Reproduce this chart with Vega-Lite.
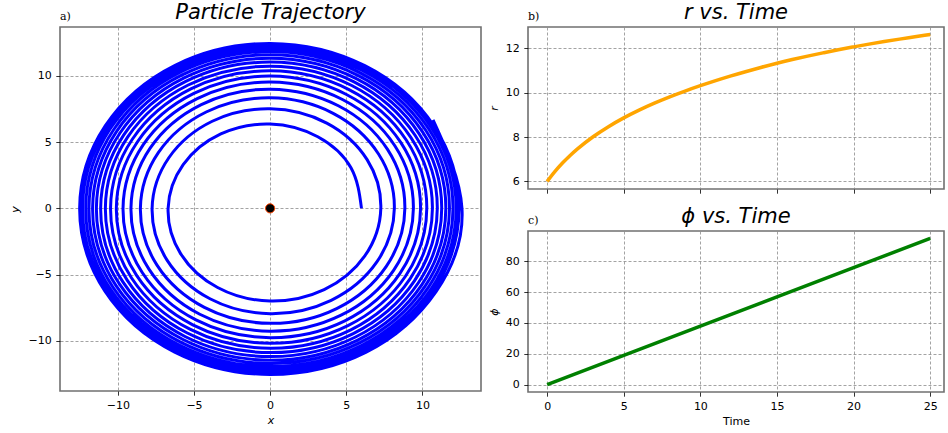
{
  "$schema": "https://vega.github.io/schema/vega-lite/v6.json",
  "background": "white",
  "padding": {"left": 8, "top": 1, "right": 0, "bottom": 0},
  "datasets": {
    "spiral": [
      {"x":6,"y":0},{"x":5.31,"y":3.06},{"x":3.13,"y":5.41},{"x":0,"y":6.37},{"x":-3.24,"y":5.62},{"x":-5.71,"y":3.3},{"x":-6.7,"y":0},{"x":-5.89,"y":-3.4},{"x":-3.45,"y":-5.98},{"x":0,"y":-7},{"x":3.55,"y":-6.14},{"x":6.22,"y":-3.59},
      {"x":7.27,"y":0},{"x":6.37,"y":3.68},{"x":3.72,"y":6.44},{"x":0,"y":7.52},{"x":-3.8,"y":6.58},{"x":-6.64,"y":3.84},{"x":-7.75,"y":0},{"x":-6.77,"y":-3.91},{"x":-3.95,"y":-6.83},{"x":0,"y":-7.96},{"x":4.01,"y":-6.95},{"x":7.01,"y":-4.05},
      {"x":8.16,"y":0},{"x":7.12,"y":4.11},{"x":4.14,"y":7.18},{"x":0,"y":8.35},{"x":-4.2,"y":7.28},{"x":-7.33,"y":4.23},{"x":-8.52,"y":0},{"x":-7.43,"y":-4.29},{"x":-4.32,"y":-7.48},{"x":0,"y":-8.69},{"x":4.37,"y":-7.57},{"x":7.62,"y":-4.4},
      {"x":8.85,"y":0},{"x":7.71,"y":4.45},{"x":4.48,"y":7.75},{"x":0,"y":9},{"x":-4.52,"y":7.84},{"x":-7.88,"y":4.55},{"x":-9.14,"y":0},{"x":-7.96,"y":-4.59},{"x":-4.62,"y":-8},{"x":0,"y":-9.28},{"x":4.66,"y":-8.07},{"x":8.11,"y":-4.68},
      {"x":9.41,"y":0},{"x":8.19,"y":4.73},{"x":4.75,"y":8.22},{"x":0,"y":9.54},{"x":-4.79,"y":8.29},{"x":-8.33,"y":4.81},{"x":-9.66,"y":0},{"x":-8.4,"y":-4.85},{"x":-4.87,"y":-8.43},{"x":0,"y":-9.77},{"x":4.91,"y":-8.5},{"x":8.53,"y":-4.92},
      {"x":9.88,"y":0},{"x":8.59,"y":4.96},{"x":4.98,"y":8.62},{"x":0,"y":9.99},{"x":-5.01,"y":8.68},{"x":-8.71,"y":5.03},{"x":-10.1,"y":0},{"x":-8.77,"y":-5.07},{"x":-5.08,"y":-8.8},{"x":0,"y":-10.2},{"x":5.11,"y":-8.86},{"x":8.89,"y":-5.13},
      {"x":10.29,"y":0},{"x":8.94,"y":5.16},{"x":5.18,"y":8.97},{"x":0,"y":10.39},{"x":-5.21,"y":9.02},{"x":-9.05,"y":5.22},{"x":-10.48,"y":0},{"x":-9.1,"y":-5.26},{"x":-5.27,"y":-9.13},{"x":0,"y":-10.57},{"x":5.3,"y":-9.18},{"x":9.2,"y":-5.31},
      {"x":10.66,"y":0},{"x":9.25,"y":5.34},{"x":5.36,"y":9.28},{"x":0,"y":10.74},{"x":-5.38,"y":9.32},{"x":-9.35,"y":5.4},{"x":-10.82,"y":0},{"x":-9.39,"y":-5.42},{"x":-5.44,"y":-9.42},{"x":0,"y":-10.9},{"x":5.46,"y":-9.46},{"x":9.48,"y":-5.48},
      {"x":10.98,"y":0},{"x":9.53,"y":5.5},{"x":5.51,"y":9.55},{"x":0,"y":11.05},{"x":-5.54,"y":9.59},{"x":-9.61,"y":5.55},{"x":-11.13,"y":0},{"x":-9.66,"y":-5.58},{"x":-5.59,"y":-9.68},{"x":0,"y":-11.2},{"x":5.61,"y":-9.72},{"x":9.74,"y":-5.62},
      {"x":11.27,"y":0},{"x":9.78,"y":5.65},{"x":5.66,"y":9.8},{"x":0,"y":11.34},{"x":-5.68,"y":9.84},{"x":-9.86,"y":5.69},{"x":-11.41,"y":0},{"x":-9.9,"y":-5.71},{"x":-5.72,"y":-9.91},{"x":0,"y":-11.47},{"x":5.75,"y":-9.95},{"x":9.97,"y":-5.76},
      {"x":11.54,"y":0},{"x":10.01,"y":5.78},{"x":5.79,"y":10.03},{"x":0,"y":11.6},{"x":-5.81,"y":10.06},{"x":-10.08,"y":5.82},{"x":-11.66,"y":0},{"x":-10.12,"y":-5.84},{"x":-5.85,"y":-10.13},{"x":0,"y":-11.72},{"x":5.87,"y":-10.17},{"x":10.18,"y":-5.88},
      {"x":11.78,"y":0},{"x":10.22,"y":5.9},{"x":5.91,"y":10.24},{"x":0,"y":11.84},{"x":-5.93,"y":10.27},{"x":-10.28,"y":5.94},{"x":-11.9,"y":0},{"x":-10.32,"y":-5.96},{"x":-5.97,"y":-10.33},{"x":0,"y":-11.95},{"x":5.99,"y":-10.37},{"x":10.38,"y":-5.99},
      {"x":12.01,"y":0},{"x":10.41,"y":6.01},{"x":6.02,"y":10.43},{"x":0,"y":12.06},{"x":-6.04,"y":10.46},{"x":-10.48,"y":6.05},{"x":-12.11,"y":0},{"x":-10.51,"y":-6.07},{"x":-6.07,"y":-10.52},{"x":0,"y":-12.17},{"x":6.09,"y":-10.55},{"x":10.57,"y":-6.1},
      {"x":12.22,"y":0},{"x":10.59,"y":6.12},{"x":6.13,"y":10.61},{"x":0,"y":12.27},{"x":-6.14,"y":10.64},{"x":-10.65,"y":6.15},{"x":-12.32,"y":0},{"x":-10.68,"y":-6.17},{"x":-6.18,"y":-10.7},{"x":0,"y":-12.37},{"x":6.19,"y":-10.72},{"x":10.74,"y":-6.2},
      {"x":12.41,"y":0},{"x":10.76,"y":6.22},{"x":6.22,"y":10.78},{"x":0,"y":12.46},{"x":-6.24,"y":10.81},{"x":-10.82,"y":6.25},{"x":-12.51,"y":0},{"x":-10.85,"y":-6.26},{"x":-6.27,"y":-10.86},{"x":0,"y":-12.55},{"x":6.28,"y":-10.88},{"x":10.9,"y":-6.29},
      {"x":12.6,"y":0},{"x":10.7,"y":6.69}
    ],
    "center": [{"x":0,"y":0}],
    "rt": [
      {"t":0,"r":6},{"t":0.5,"r":6.441},{"t":1,"r":6.827},{"t":1.5,"r":7.169},{"t":2,"r":7.476},{"t":3,"r":8.011},{"t":4,"r":8.465},{"t":5,"r":8.861},{"t":6,"r":9.21},{"t":7,"r":9.524},{"t":8,"r":9.808},{"t":9,"r":10.068},{"t":10,"r":10.308},{"t":11,"r":10.535},{"t":12,"r":10.75},{"t":13,"r":10.95},{"t":14,"r":11.14},{"t":15,"r":11.32},{"t":16,"r":11.485},{"t":17,"r":11.64},{"t":18,"r":11.785},{"t":19,"r":11.925},{"t":20,"r":12.055},{"t":21,"r":12.18},{"t":22,"r":12.295},{"t":23,"r":12.405},{"t":24,"r":12.51},{"t":25,"r":12.616}
    ],
    "phit": [
      {"t":0,"phi":0},{"t":5,"phi":18.96},{"t":10,"phi":37.93},{"t":15,"phi":56.89},{"t":20,"phi":75.85},{"t":25,"phi":94.81}
    ]
  },
  "config": {
    "view": {"stroke": "#707070", "strokeWidth": 1.6},
    "axis": {
      "domain": false, "grid": true, "gridColor": "#8c8c8c", "gridDash": [3, 2], "gridWidth": 0.8,
      "tickColor": "#000", "tickSize": 4.2, "tickWidth": 0.8,
      "labelFont": "DejaVu Sans", "labelFontSize": 11, "labelColor": "#000", "labelPadding": 4.5,
      "labelFlush": false, "labelOverlap": false, "labelBound": false,
      "titleFont": "DejaVu Sans", "titleFontSize": 11, "titleFontWeight": "normal", "titleColor": "#000"
    },
    "title": {"font": "DejaVu Sans", "fontSize": 21, "fontStyle": "italic", "fontWeight": "normal", "color": "#000", "frame": "group", "baseline": "alphabetic", "offset": 4}
  },
  "hconcat": [
    {
      "title": {"text": "a)", "anchor": "start", "font": "DejaVu Serif", "fontSize": 11, "fontStyle": "normal", "dx": 0, "offset": -20.5},
      "vconcat": [
        {
          "width": 421, "height": 364,
          "title": {"text": "Particle Trajectory"},
          "layer": [
            {
              "data": {"name": "spiral"},
              "mark": {"type": "line", "color": "#0000ff", "strokeWidth": 3, "interpolate": "natural"},
              "encoding": {
                "x": {"field": "x", "type": "quantitative", "scale": {"domain": [-13.8, 13.85], "nice": false, "zero": false},
                      "axis": {"title": "x", "titleFontStyle": "italic", "values": [-10, -5, 0, 5, 10], "titlePadding": 4, "labelExpr": "replace(datum.label, '-', '−')"}},
                "y": {"field": "y", "type": "quantitative", "scale": {"domain": [-13.8, 13.7], "nice": false, "zero": false},
                      "axis": {"title": "y", "titleFontStyle": "italic", "values": [-10, -5, 0, 5, 10], "titlePadding": 8, "labelExpr": "replace(datum.label, '-', '−')"}},
                "order": {"value": null}
              }
            },
            {
              "data": {"name": "center"},
              "mark": {"type": "point", "filled": true, "fill": "#000", "stroke": "#ff4500", "strokeWidth": 1, "size": 85, "opacity": 1},
              "encoding": {
                "x": {"field": "x", "type": "quantitative"},
                "y": {"field": "y", "type": "quantitative"}
              }
            }
          ]
        }
      ]
    },
    {
      "spacing": 10,
      "vconcat": [
        {
          "title": {"text": "b)", "anchor": "start", "font": "DejaVu Serif", "fontSize": 11, "fontStyle": "normal", "dx": 0, "offset": -20.5},
          "vconcat": [
            {
              "width": 416, "height": 162,
              "title": {"text": "r vs. Time"},
              "data": {"name": "rt"},
              "mark": {"type": "line", "color": "#ffa500", "strokeWidth": 3.5, "interpolate": "monotone"},
              "encoding": {
                "x": {"field": "t", "type": "quantitative", "scale": {"domain": [-1.25, 25.9], "nice": false, "zero": false},
                      "axis": {"title": null, "labels": false, "values": [0, 5, 10, 15, 20, 25]}},
                "y": {"field": "r", "type": "quantitative", "scale": {"domain": [5.66, 12.95], "nice": false, "zero": false},
                      "axis": {"title": "r", "titleFontStyle": "italic", "values": [6, 8, 10, 12], "titlePadding": 6}}
              }
            }
          ]
        },
        {
          "title": {"text": "c)", "anchor": "start", "font": "DejaVu Serif", "fontSize": 11, "fontStyle": "normal", "dx": 0, "offset": -20.5},
          "vconcat": [
            {
              "width": 416, "height": 161,
              "title": {"text": "ϕ vs. Time"},
              "data": {"name": "phit"},
              "mark": {"type": "line", "color": "#008000", "strokeWidth": 3.5},
              "encoding": {
                "x": {"field": "t", "type": "quantitative", "scale": {"domain": [-1.25, 25.9], "nice": false, "zero": false},
                      "axis": {"title": "Time", "values": [0, 5, 10, 15, 20, 25], "titlePadding": 4}},
                "y": {"field": "phi", "type": "quantitative", "scale": {"domain": [-4.75, 99.6], "nice": false, "zero": false},
                      "axis": {"title": "ϕ", "titleFontStyle": "italic", "values": [0, 20, 40, 60, 80], "titlePadding": 6}}
              }
            }
          ]
        }
      ]
    }
  ],
  "spacing": 5
}
